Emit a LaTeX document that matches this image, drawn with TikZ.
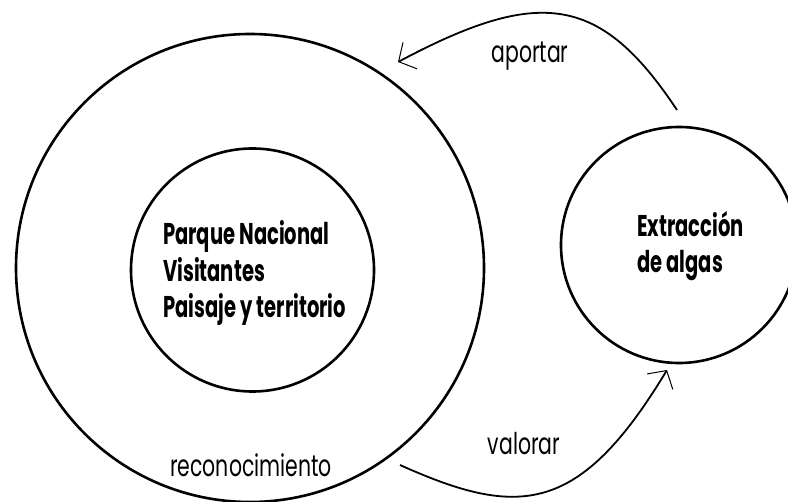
\documentclass[tikz,border=0pt]{standalone}
\usepackage{fontspec}
\setmainfont{Poppins}[FakeStretch=0.68]
\newfontfamily\boldfam{Poppins}[FakeStretch=0.65]
\usetikzlibrary{arrows.meta}
\begin{document}
\begin{tikzpicture}[x=1pt,y=-1pt,
  ring/.style={circle,draw,line width=2.6pt,inner sep=0pt},
  mainlbl/.style={font=\boldfam\bfseries\fontsize{30}{36}\selectfont,inner sep=0pt,anchor=base west},
  arclbl/.style={font=\fontsize{30}{36}\selectfont,inner sep=0pt,anchor=base},
  conn/.style={line width=1.8pt,-{Straight Barb[length=13pt,width=30pt,line width=1pt]}}]
\useasboundingbox (0,0) rectangle (788,502);
% circles
\node[ring,minimum size=468pt] (outer) at (250,268) {};
\node[ring,minimum size=243pt] (inner) at (252.5,270) {};
\node[ring,minimum size=236pt] (ex) at (679,245) {};
% inner texts
\node[mainlbl] (pn1) at (163,245) {Parque Nacional};
\node[mainlbl] (pn2) at (163,282) {Visitantes};
\node[mainlbl] (pn3) at (163,318) {Paisaje y territorio};
\node[mainlbl] (ex1) at (637,237) {Extracción};
\node[mainlbl] (ex2) at (637,273) {de algas};
% labels
\node[arclbl] (rec) at (251,477) {reconocimiento};
\node[arclbl] (apo) at (530,63) {aportar};
\node[arclbl] (val) at (524,455) {valorar};
% connector end points
\coordinate (aS) at (677,110);
\coordinate (aE) at (398,62);
\coordinate (vS) at (400,465);
\coordinate (vE) at (667,370);
\draw[conn] (aS) .. controls (600,-6) and (539,-13) .. (aE);
\draw[conn] (vS) .. controls (518,518) and (579,516) .. (vE);
\end{tikzpicture}
\end{document}
